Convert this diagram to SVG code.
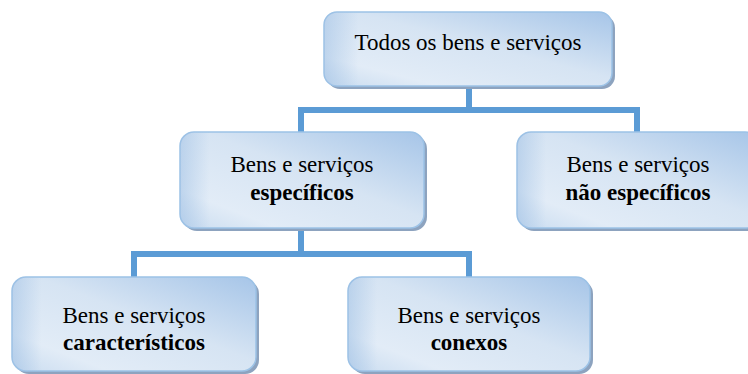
<svg xmlns="http://www.w3.org/2000/svg" width="748" height="374" viewBox="0 0 748 374">
  <style>
    text { font-family: 'Liberation Serif', 'Times New Roman', Times, serif; font-size: 23px; fill: #000; }
    .shadow { fill: #8da3bf; }
    .box { fill: url(#fillGrad); stroke: #9cc2e6; stroke-width: 1.5; }
    .edge { fill: url(#edgeGrad); }
    .conn { fill: none; stroke: #5b9bd5; stroke-width: 6; stroke-linejoin: miter; stroke-linecap: butt; }
  </style>
  <defs>
    <linearGradient id="fillGrad" x1="1" y1="0" x2="0" y2="1">
      <stop offset="0" stop-color="#a6c5e8"/>
      <stop offset="0.45" stop-color="#d6e4f3"/>
      <stop offset="0.8" stop-color="#e2ecf7"/>
      <stop offset="1" stop-color="#c9dcf0"/>
    </linearGradient>
    <linearGradient id="edgeGrad" x1="0" y1="0" x2="1" y2="0">
      <stop offset="0" stop-color="#9fc0e4" stop-opacity="0.55"/>
      <stop offset="0.12" stop-color="#9fc0e4" stop-opacity="0"/>
      <stop offset="1" stop-color="#9fc0e4" stop-opacity="0"/>
    </linearGradient>
  </defs>

  <g id="connectors">
    <path class="conn" d="M469,86 V110"/>
    <path class="conn" d="M301,132 V110 H637 V132"/>
    <path class="conn" d="M301,228 V254"/>
    <path class="conn" d="M134,277 V254 H469 V277"/>
  </g>

  <g id="node-todos">
    <rect class="shadow" x="327" y="15" width="288" height="74" rx="13"/>
    <rect class="box" x="324" y="12" width="288" height="74" rx="13"/>
    <rect class="edge" x="324" y="12" width="288" height="74" rx="13"/>
    <text x="468" y="50" text-anchor="middle" font-family="Times New Roman" style="font-family: 'Times New Roman', 'Liberation Serif', serif">Todos os bens e serviços</text>
  </g>

  <g id="node-especificos">
    <rect class="shadow" x="183" y="135" width="244" height="96" rx="14"/>
    <rect class="box" x="180" y="132" width="244" height="96" rx="14"/>
    <rect class="edge" x="180" y="132" width="244" height="96" rx="14"/>
    <text x="302" y="172" text-anchor="middle" font-family="Times New Roman" style="font-family: 'Times New Roman', 'Liberation Serif', serif">Bens e serviços</text>
    <text x="302" y="200" text-anchor="middle" font-weight="bold" font-family="Times New Roman" style="font-family: 'Times New Roman', 'Liberation Serif', serif">específicos</text>
  </g>

  <g id="node-nao-especificos">
    <rect class="shadow" x="520" y="135" width="242" height="96" rx="14"/>
    <rect class="box" x="517" y="132" width="242" height="96" rx="14"/>
    <rect class="edge" x="517" y="132" width="242" height="96" rx="14"/>
    <text x="638" y="172" text-anchor="middle" font-family="Times New Roman" style="font-family: 'Times New Roman', 'Liberation Serif', serif">Bens e serviços</text>
    <text x="638" y="200" text-anchor="middle" font-weight="bold" font-family="Times New Roman" style="font-family: 'Times New Roman', 'Liberation Serif', serif">não específicos</text>
  </g>

  <g id="node-caracteristicos">
    <rect class="shadow" x="15" y="280" width="244" height="94" rx="14"/>
    <rect class="box" x="12" y="277" width="244" height="94" rx="14"/>
    <rect class="edge" x="12" y="277" width="244" height="94" rx="14"/>
    <text x="134" y="323" text-anchor="middle" font-family="Times New Roman" style="font-family: 'Times New Roman', 'Liberation Serif', serif">Bens e serviços</text>
    <text x="134" y="350" text-anchor="middle" font-weight="bold" font-family="Times New Roman" style="font-family: 'Times New Roman', 'Liberation Serif', serif">característicos</text>
  </g>

  <g id="node-conexos">
    <rect class="shadow" x="351" y="280" width="242" height="94" rx="14"/>
    <rect class="box" x="348" y="277" width="242" height="94" rx="14"/>
    <rect class="edge" x="348" y="277" width="242" height="94" rx="14"/>
    <text x="469" y="323" text-anchor="middle" font-family="Times New Roman" style="font-family: 'Times New Roman', 'Liberation Serif', serif">Bens e serviços</text>
    <text x="469" y="350" text-anchor="middle" font-weight="bold" font-family="Times New Roman" style="font-family: 'Times New Roman', 'Liberation Serif', serif">conexos</text>
  </g>
</svg>
